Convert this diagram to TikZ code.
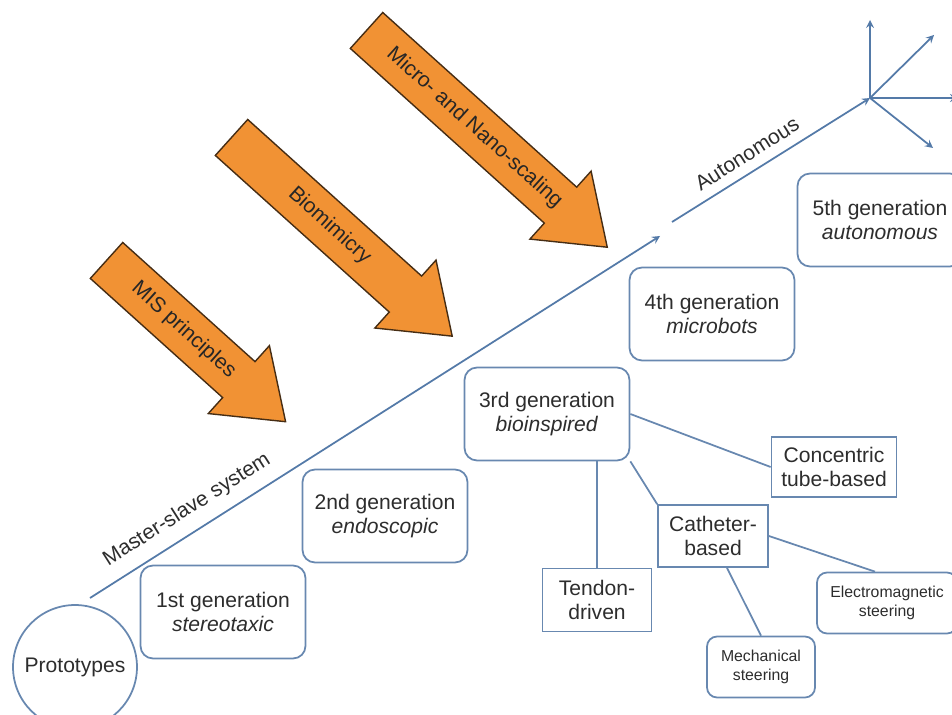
\documentclass[tikz,border=0pt]{standalone}
\usepackage{fontspec}
\setmainfont{Liberation Sans}
\usetikzlibrary{shapes,arrows,positioning,calc}

\definecolor{lineblue}{RGB}{84,122,168}
\definecolor{boxblue}{RGB}{104,136,176}
\definecolor{trendorange}{RGB}{241,146,52}
\definecolor{trendedge}{RGB}{70,45,20}
\definecolor{txtgray}{RGB}{45,45,45}

\begin{document}
\begin{tikzpicture}[
    x=0.02cm, y=-0.02cm,
    every node/.style={text=txtgray},
    gen/.style={rectangle, rounded corners=0.25cm, draw=boxblue, line width=1pt, minimum width=3.3cm, minimum height=1.86cm, align=center, font=\large},
    sub/.style={rectangle, draw=boxblue, line width=1pt, align=center, font=\large, inner sep=2pt},
    steer/.style={rectangle, rounded corners=0.2cm, draw=boxblue, line width=1pt, align=center, font=\small, minimum height=1.22cm},
    proto/.style={circle, draw=boxblue, line width=1pt, minimum size=2.48cm, font=\large},
    trend/.style={single arrow, draw=trendedge, fill=trendorange, line width=0.8pt, font=\large, text=black!85, text height=0.3cm, text depth=0.08cm, inner ysep=0.28cm, single arrow head extend=0.43cm, single arrow tip angle=72, rotate=-42, anchor=tail},
    arrow/.style={->, >=stealth, draw=lineblue, line width=1pt},
    link/.style={draw=boxblue, line width=1pt},
    linetext/.style={font=\large}
]
\useasboundingbox (0,0) rectangle (952,715);
\clip (0,0) rectangle (952,715);

% Driving trends
\node[trend, minimum height=4.82cm] (mis) at (106,260) {MIS principles};
\node[trend, minimum height=5.94cm] (bio) at (231,137) {Biomimicry};
\node[trend, minimum height=6.48cm] (nano) at (366,30) {Micro- and Nano-scaling};

% Evolution line
\coordinate (start) at (90,598);
\coordinate (mid) at (660,236);
\coordinate (restart) at (672,222);
\coordinate (hub) at (870,98);
\draw[arrow] (start) -- (mid);
\draw[arrow] (restart) -- (hub);
\foreach \tx/\ty [count=\i] in {870/20, 934/35, 958/98, 933/148} {
    \coordinate (ray\i) at (\tx,\ty);
    \draw[arrow] (hub) -- (ray\i);
}
\node[linetext, rotate=32.4] (msys) at (187,510) {Master-slave system};
\node[linetext, rotate=32.4] (auto) at (747,154) {Autonomous};

% Generations
\node[proto] (proto) at (75,667) {Prototypes};
\node[gen] (gen1) at (223,612) {1st generation\\\textit{stereotaxic}};
\node[gen] (gen2) at (385,516) {2nd generation\\\textit{endoscopic}};
\node[gen] (gen3) at (547,414) {3rd generation\\\textit{bioinspired}};
\node[gen] (gen4) at (712,314) {4th generation\\\textit{microbots}};
\node[gen] (gen5) at (880,220) {5th generation\\\textit{autonomous}};

% Bioinspired branches
\node[sub, minimum width=2.5cm, minimum height=1.2cm] (conc) at (834,467) {Concentric\\tube-based};
\node[sub, minimum width=2.2cm, minimum height=1.24cm] (cath) at (713,536) {Catheter-\\based};
\node[sub, minimum width=2.18cm, minimum height=1.26cm] (tendon) at (597,600) {Tendon-\\driven};
\node[steer, minimum width=2.8cm] (em) at (887,603) {Electromagnetic\\steering};
\node[steer, minimum width=2.16cm] (mech) at (761,667) {Mechanical\\steering};

\draw[link] (gen3.east) -- (conc.west);
\draw[link] (gen3.south -| tendon.north) -- (tendon.north);
\draw[link] (gen3.south east) -- (cath.north west);
\draw[link] (cath.east) -- ($(em.north)+(-12,0)$);
\draw[link] ($(cath.south)+(14,0)$) -- (mech.north);

\end{tikzpicture}
\end{document}
